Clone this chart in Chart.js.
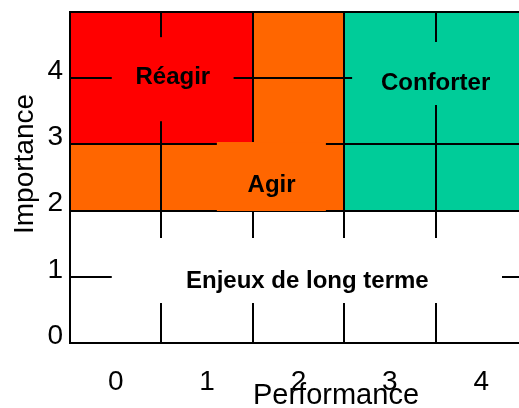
<!DOCTYPE html>
<html>
<head>
<meta charset="utf-8">
<script src="https://cdn.jsdelivr.net/npm/chart.js@4.4.1/dist/chart.umd.min.js"></script>
<style>
  html, body { margin: 0; padding: 0; background: #ffffff; }
  #wrap { width: 519px; height: 408px; }
</style>
</head>
<body>
<div id="wrap"><canvas id="c" width="519" height="408"></canvas></div>
<script>
// ---- data ----
const xTickLabels = ['0', '1', '2', '3', '4'];
const yTickLabels = ['0', '1', '2', '3', '4', ''];
const xTitle = 'Performance';
const yTitle = 'Importance';
// coloured zones (performance range, importance range)
const zoneNames = ['Agir', 'Réagir', 'Conforter'];
const zoneX0 = [-0.5, -0.5, 2.5];
const zoneX1 = [2.5, 1.5, 4.5];
const zoneY0 = [2, 3, 2];
const zoneY1 = [5, 5, 5];
// zone labels
const labelTexts = ['Réagir', 'Agir', 'Conforter', 'Enjeux de long terme'];
const labelX = [0.625, 1.706, 3.5, 2.097];
const labelY = [3.91, 2.28, 3.82, 0.83];

// ---- styles / layout ----
const FONT = "'Liberation Sans', Arial, Helvetica, sans-serif";
const zoneColors = ['#FF6600', '#FF0000', '#00CC99'];
// label background boxes (data units): x0, x1, y0, y1
const labelBoxes = [
  [-0.043, 1.29, 3.35, 4.62],
  [1.107, 2.30, 1.994, 3.036],
  [2.587, 4.6, 3.595, 4.547],
  [-0.043, 4.227, 0.604, 1.586]
];
const labelBoxColors = ['#FF0000', '#FF6600', '#00CC99', '#FFFFFF'];

const datasets = zoneNames.map((name, i) => ({
  label: name,
  data: [{ x: zoneX0[i], y: zoneY1[i] }, { x: zoneX1[i], y: zoneY1[i] }],
  fill: { value: zoneY0[i] },
  backgroundColor: zoneColors[i],
  borderWidth: 0,
  pointRadius: 0,
  order: 10 - i
}));

const overlayPlugin = {
  id: 'overlay',
  afterDraw(chart) {
    const ctx = chart.ctx;
    const xs = chart.scales.x, ys = chart.scales.y;
    const area = chart.chartArea;
    ctx.save();
    ctx.beginPath();
    ctx.rect(area.left + 1, area.top + 1, area.right - area.left, area.bottom - area.top - 2);
    ctx.clip();
    labelBoxes.forEach((b, i) => {
      const x0 = xs.getPixelForValue(b[0]), x1 = xs.getPixelForValue(b[1]);
      const y0 = ys.getPixelForValue(b[2]), y1 = ys.getPixelForValue(b[3]);
      ctx.fillStyle = labelBoxColors[i];
      ctx.fillRect(x0, y1, x1 - x0, y0 - y1);
    });
    ctx.restore();
    ctx.save();
    ctx.fillStyle = '#000000';
    ctx.font = 'bold 24px ' + FONT;
    ctx.textAlign = 'center';
    ctx.textBaseline = 'alphabetic';
    labelTexts.forEach((t, i) => {
      ctx.fillText(t, xs.getPixelForValue(labelX[i]), ys.getPixelForValue(labelY[i]));
    });
    // axis titles
    ctx.font = '29px ' + FONT;
    ctx.fillText(xTitle, 336, 404);
    ctx.translate(33, 164);
    ctx.rotate(-Math.PI / 2);
    ctx.font = '28px ' + FONT;
    ctx.fillText(yTitle, 0, 0);
    ctx.restore();
  }
};

new Chart(document.getElementById('c'), {
  type: 'line',
  data: { datasets },
  plugins: [overlayPlugin],
  options: {
    responsive: false,
    animation: false,
    devicePixelRatio: 1,
    layout: { padding: { top: 12, right: 0, left: 0, bottom: 0 } },
    plugins: { legend: { display: false }, tooltip: { enabled: false } },
    scales: {
      x: {
        type: 'linear',
        min: -0.5,
        max: 4.413,
        afterBuildTicks: (s) => { s.ticks = xTickLabels.map((l, i) => ({ value: i })); },
        afterFit: (s) => { s.height = 65; s.paddingLeft = 0; s.paddingRight = 0; },
        ticks: {
          padding: 22,
          color: '#000000',
          font: { family: FONT, size: 28 },
          callback: (v, i) => xTickLabels[i]
        },
        grid: { offset: true, color: '#000000', lineWidth: 2, drawTicks: false, z: 1 },
        border: { display: true, color: '#000000', width: 2, z: 1 }
      },
      y: {
        type: 'linear',
        min: 0,
        max: 5,
        afterBuildTicks: (s) => { s.ticks = yTickLabels.map((l, i) => ({ value: i })); },
        afterFit: (s) => { s.width = 70; s.paddingTop = 0; s.paddingBottom = 0; },
        ticks: {
          padding: 7,
          labelOffset: -7,
          color: '#000000',
          font: { family: FONT, size: 28 },
          callback: (v, i) => yTickLabels[i]
        },
        grid: { color: '#000000', lineWidth: 2, drawTicks: false, z: 1 },
        border: { display: true, color: '#000000', width: 2, z: 1 }
      }
    }
  }
});
</script>
</body>
</html>
